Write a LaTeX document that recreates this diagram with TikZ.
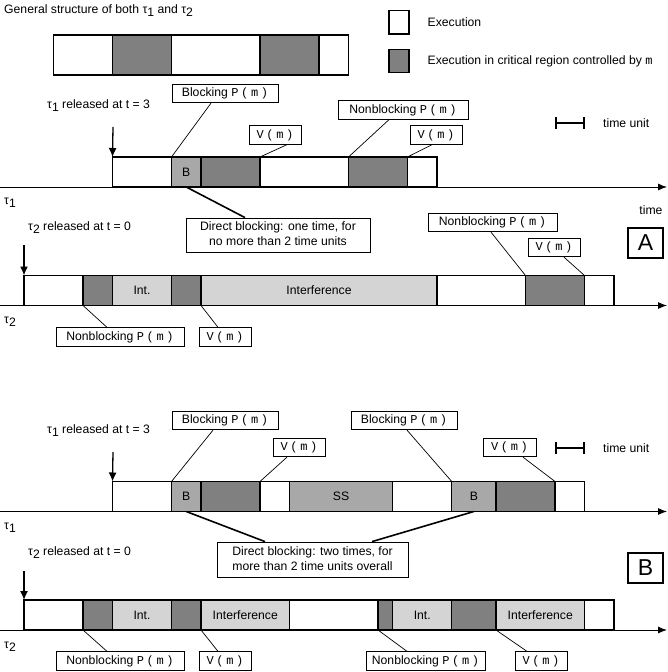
\documentclass[tikz,border=0pt]{standalone}
\usepackage{fontspec}
\setmainfont{Liberation Sans}
\newfontfamily\monoP[LetterSpace=22]{Liberation Mono}
\usetikzlibrary{arrows.meta}
\definecolor{crit}{RGB}{128,128,128}
\definecolor{blk}{RGB}{168,168,168}
\definecolor{intf}{RGB}{212,212,212}
\newcommand{\tsub}[1]{τ\raisebox{-3pt}{#1}}
\newcommand{\PmT}{{\monoP\fontsize{12}{13}\selectfont P(m)}}
\newcommand{\VmT}{{\monoP\fontsize{12}{13}\selectfont V(m)}}
\newcommand{\mmT}{{\monoP\fontsize{12}{13}\selectfont m}}
\newcommand{\mainfs}{\fontsize{12.2}{15}\selectfont}
\tikzset{
  segbox/.style={draw, line width=1.3pt, inner sep=0pt, outer sep=0pt, minimum height=30pt, font=\mainfs},
  lbl/.style={draw, line width=0.8pt, fill=white, inner sep=0pt, minimum height=18.5pt, font=\mainfs},
  txt/.style={inner sep=0pt, font=\mainfs},
  conn/.style={line width=0.7pt},
  thickconn/.style={line width=1.6pt},
  axisline/.style={line width=0.9pt, -{Latex[length=9pt,width=7pt]}},
  rel/.style={line width=1.3pt, -{Latex[length=9pt,width=8pt]}},
  tunit/.style={line width=1.6pt, {Bar[width=12pt,line width=2pt]}-{Bar[width=12pt,line width=2pt]}},
  letterbox/.style={draw, line width=1.1pt, inner sep=0pt, minimum width=35pt, minimum height=30pt, font=\fontsize{23}{25}\selectfont},
  legbox/.style={draw, line width=1.4pt, minimum width=20pt, minimum height=23.5pt, inner sep=0pt},
}
% name, t0, t1, fill, top y, text
\newcommand{\seg}[6]{\node[segbox, fill=#4, minimum width={(#3-#2)*29.5pt}, anchor=north west] (#1) at ({24+29.5*#2},#5) {#6};}
\newcommand{\sseg}[5]{\node[segbox, fill=#4, minimum width={(#3-#2)*29.5pt}, minimum height=40pt, anchor=north west] (#1) at ({24+29.5*#2},#5) {};}
\begin{document}
\begin{tikzpicture}[x=1pt,y=-1pt]
\useasboundingbox (0,0) rectangle (667,672);
% ---------- header ----------
\node[txt, anchor=west] (title) at (4,11) {General structure of both \tsub{1} and \tsub{2}};
\sseg{s1}{1}{3}{white}{35}
\sseg{s2}{3}{5}{crit}{35}
\sseg{s3}{5}{8}{white}{35}
\sseg{s4}{8}{10}{crit}{35}
\sseg{s5}{10}{11}{white}{35}
\node[legbox, fill=white] (legw) at (399,22.3) {};
\node[legbox, fill=crit] (legg) at (399,61) {};
\node[txt, anchor=west] (legwt) at (427.5,22.5) {Execution};
\node[txt, anchor=west] (leggt) at (427.5,61.5) {Execution in critical region controlled by \mmT};
% ================= A =================
\coordinate (ax1s) at (0,187); \coordinate (ax1e) at (667,187);
\draw[axisline] (ax1s) -- (ax1e);
\coordinate (ax2s) at (0,305.5); \coordinate (ax2e) at (667,305.5);
\draw[axisline] (ax2s) -- (ax2e);
% tau1 A
\seg{a1w1}{3}{5}{white}{157}{}
\seg{a1b}{5}{6}{blk}{157}{B}
\seg{a1c1}{6}{8}{crit}{157}{}
\seg{a1w2}{8}{11}{white}{157}{}
\seg{a1c2}{11}{13}{crit}{157}{}
\seg{a1w3}{13}{14}{white}{157}{}
% tau2 A
\seg{a2w1}{0}{2}{white}{275.5}{}
\seg{a2c1}{2}{3}{crit}{275.5}{}
\seg{a2i1}{3}{5}{intf}{275.5}{Int.}
\seg{a2c2}{5}{6}{crit}{275.5}{}
\seg{a2i2}{6}{14}{intf}{275.5}{Interference}
\seg{a2w2}{14}{17}{white}{275.5}{}
\seg{a2c3}{17}{19}{crit}{275.5}{}
\seg{a2w3}{19}{20}{white}{275.5}{}
% texts A
\node[txt, anchor=west] (rel1t) at (47,106) {\tsub{1} released at t = 3};
\coordinate (r1) at (113,127);
\draw[rel] (r1) -- (a1w1.north west);
\node[txt, anchor=west] (rel2t) at (28,228) {\tsub{2} released at t = 0};
\coordinate (r2) at (24,245);
\draw[rel] (r2) -- (a2w1.north west);
\node[txt, anchor=west] (tau1a) at (4,203) {\tsub{1}};
\node[txt, anchor=west] (tau2a) at (4,322) {\tsub{2}};
\node[txt] (timet) at (651,210) {time};
\coordinate (tu1a) at (555,123); \coordinate (tu1b) at (585,123);
\draw[tunit] (tu1a) -- (tu1b);
\node[txt, anchor=west] (tu1t) at (603,123) {time unit};
\node[letterbox] (boxA) at (645.5,243) {A};
% labels A
\node[lbl, minimum width=106pt] (bp1) at (225,93.5) {Blocking \PmT};
\draw[conn] ([xshift=-14pt]bp1.south) -- (a1b.north west);
\node[lbl, minimum width=52pt] (v1) at (275,135) {\VmT};
\draw[conn] ([xshift=12pt]v1.south) -- (a1c1.north east);
\node[lbl, minimum width=130pt] (np1) at (403,110) {Nonblocking \PmT};
\draw[conn] ([xshift=-14pt]np1.south) -- (a1c2.north west);
\node[lbl, minimum width=52pt] (v2) at (436,135) {\VmT};
\draw[conn] ([xshift=-4pt]v2.south) -- (a1c2.north east);
\node[lbl, minimum width=184pt, minimum height=34pt] (db1) at (278,235) {\begin{tabular}{@{}c@{}}Direct blocking: one time, for\\no more than 2 time units\end{tabular}};
\draw[thickconn] ([xshift=-33pt]db1.north) -- (a1b.south);
\node[lbl, minimum width=129pt] (np2) at (492.5,222.5) {Nonblocking \PmT};
\draw[conn] ([xshift=-1.5pt]np2.south) -- (a2c3.north west);
\node[lbl, minimum width=52pt] (v3) at (554,247.5) {\VmT};
\draw[conn] ([xshift=10pt]v3.south) -- (a2c3.north east);
\node[lbl, minimum width=128pt] (np3) at (120,337) {Nonblocking \PmT};
\draw[conn] (a2c1.south west) -- ([xshift=-13pt]np3.north);
\node[lbl, minimum width=52pt] (v4) at (225,337) {\VmT};
\draw[conn] (a2c2.south east) -- ([xshift=-7pt]v4.north);
% ================= B =================
\coordinate (bx1s) at (0,511.5); \coordinate (bx1e) at (667,511.5);
\draw[axisline] (bx1s) -- (bx1e);
\coordinate (bx2s) at (0,630); \coordinate (bx2e) at (667,630);
\draw[axisline] (bx2s) -- (bx2e);
% tau1 B
\seg{b1w1}{3}{5}{white}{481.5}{}
\seg{b1b1}{5}{6}{blk}{481.5}{B}
\seg{b1c1}{6}{8}{crit}{481.5}{}
\seg{b1w2}{8}{9}{white}{481.5}{}
\seg{b1ss}{9}{12.5}{blk}{481.5}{SS}
\seg{b1w3}{12.5}{14.5}{white}{481.5}{}
\seg{b1b2}{14.5}{16}{blk}{481.5}{B}
\seg{b1c2}{16}{18}{crit}{481.5}{}
\seg{b1w4}{18}{19}{white}{481.5}{}
% tau2 B
\seg{b2w1}{0}{2}{white}{600}{}
\seg{b2c1}{2}{3}{crit}{600}{}
\seg{b2i1}{3}{5}{intf}{600}{Int.}
\seg{b2c2}{5}{6}{crit}{600}{}
\seg{b2i2}{6}{9}{intf}{600}{Interference}
\seg{b2w2}{9}{12}{white}{600}{}
\seg{b2c3}{12}{12.5}{crit}{600}{}
\seg{b2i3}{12.5}{14.5}{intf}{600}{Int.}
\seg{b2c4}{14.5}{16}{crit}{600}{}
\seg{b2i4}{16}{19}{intf}{600}{Interference}
\seg{b2w3}{19}{20}{white}{600}{}
% texts B
\node[txt, anchor=west] (rel3t) at (47,431) {\tsub{1} released at t = 3};
\coordinate (r3) at (113,452);
\draw[rel] (r3) -- (b1w1.north west);
\node[txt, anchor=west] (rel4t) at (28,553) {\tsub{2} released at t = 0};
\coordinate (r4) at (24,571);
\draw[rel] (r4) -- (b2w1.north west);
\node[txt, anchor=west] (tau1b) at (4,528) {\tsub{1}};
\node[txt, anchor=west] (tau2b) at (4,647) {\tsub{2}};
\coordinate (tu2a) at (555,448); \coordinate (tu2b) at (585,448);
\draw[tunit] (tu2a) -- (tu2b);
\node[txt, anchor=west] (tu2t) at (603,448) {time unit};
\node[letterbox] (boxB) at (645.5,568) {B};
% labels B
\node[lbl, minimum width=106pt] (bp2) at (225,420.5) {Blocking \PmT};
\draw[conn] ([xshift=-12pt]bp2.south) -- (b1b1.north west);
\node[lbl, minimum width=52pt] (v5) at (299,447.5) {\VmT};
\draw[conn] ([xshift=-12pt]v5.south) -- (b1c1.north east);
\node[lbl, minimum width=106pt] (bp3) at (404,420.5) {Blocking \PmT};
\draw[conn] ([xshift=3pt]bp3.south) -- (b1b2.north west);
\node[lbl, minimum width=53pt] (v6) at (509.5,447.5) {\VmT};
\draw[conn] ([xshift=13.5pt]v6.south) -- (b1c2.north east);
\node[lbl, minimum width=191pt, minimum height=35pt] (db2) at (312.5,559.5) {\begin{tabular}{@{}c@{}}Direct blocking: two times, for\\more than 2 time units overall\end{tabular}};
\draw[thickconn] ([xshift=-47.5pt]db2.north) -- (b1b1.south);
\draw[thickconn] ([xshift=59.5pt]db2.north) -- (b1b2.south);
\node[lbl, minimum width=128pt] (np4) at (120,661) {Nonblocking \PmT};
\draw[conn] (b2c1.south west) -- ([xshift=-13pt]np4.north);
\node[lbl, minimum width=52pt] (v7) at (225,661) {\VmT};
\draw[conn] (b2c2.south east) -- ([xshift=-7pt]v7.north);
\node[lbl, minimum width=119pt] (np5) at (425.5,661) {Nonblocking \PmT};
\draw[conn] (b2c3.south west) -- ([xshift=-18.5pt]np5.north);
\node[lbl, minimum width=52pt] (v8) at (541,661) {\VmT};
\draw[conn] (b2c4.south east) -- ([xshift=-14pt]v8.north);
\end{tikzpicture}
\end{document}
